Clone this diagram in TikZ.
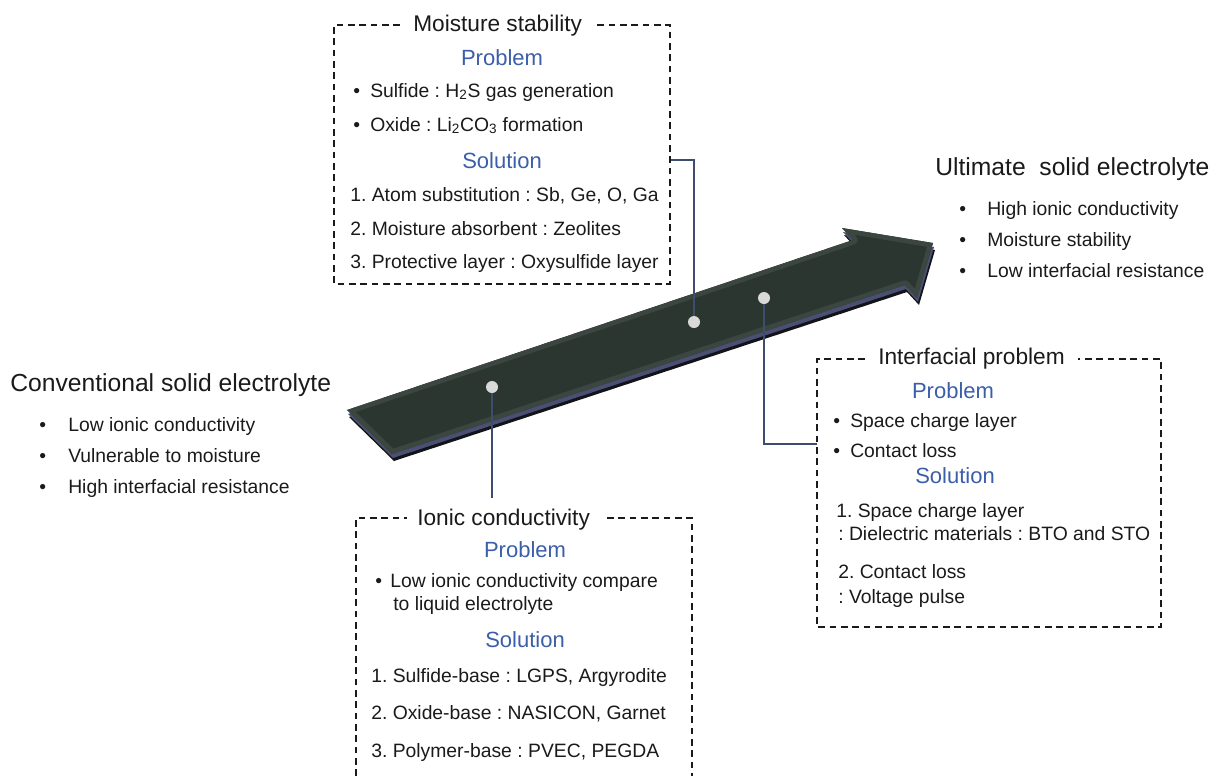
\documentclass[tikz,border=0pt]{standalone}
\usepackage{fontspec}
\setmainfont{Liberation Sans}
\frenchspacing
\definecolor{probblue}{HTML}{3B5EA8}
\definecolor{linkcol}{HTML}{3E4C6E}
\definecolor{dotgray}{HTML}{D9D9D9}
\definecolor{arrmain}{HTML}{2B3630}
\definecolor{arrbevel}{HTML}{3A463F}
\definecolor{arrside}{HTML}{4A4F73}
\definecolor{arrshadow}{HTML}{121419}
\definecolor{txtcol}{HTML}{1A1A1A}
\begin{document}
\frenchspacing
\begin{tikzpicture}[x=0.75pt,y=-0.75pt,
  txt/.style={inner sep=0pt, anchor=base west, text=txtcol, font=\fontsize{14.5}{17}\selectfont},
  hd/.style={inner sep=0pt, anchor=base, text=probblue, font=\fontsize{16.5}{19}\selectfont},
  ttl/.style={inner sep=0pt, anchor=base west, text=txtcol, font=\fontsize{17}{20}\selectfont},
  big/.style={inner sep=0pt, anchor=base west, text=txtcol, font=\fontsize{18.5}{22}\selectfont},
  dbox/.style={line width=1.1pt, dash pattern=on 5pt off 3.5pt, txtcol},
  link/.style={line width=1.1pt, draw=linkcol},
  dotnode/.style={circle, fill=dotgray, minimum size=9pt, inner sep=0pt}]

\useasboundingbox (0,0) rectangle (1210,776);

% ---------------- arrow ----------------
\def\arrowpath{(347,410) -- (853,240) -- (842,228) -- (933,243) -- (917,298) -- (905,285) -- (392,454) -- cycle}
\begin{scope}[shift={(2,7)}]
  \fill[arrshadow] \arrowpath;
\end{scope}
\begin{scope}[shift={(1,4)}]
  \fill[arrside] \arrowpath;
\end{scope}
\fill[arrmain] \arrowpath;
\begin{scope}
  \clip \arrowpath;
  \draw[arrbevel, line width=7pt, line join=round] \arrowpath;
\end{scope}

% ---------------- left / right summaries ----------------
\node[big] (conv) at (10,391) {Conventional solid electrolyte};
\node[txt] (cb1) at (39,431) {•};
\node[txt] (cb2) at (39,462) {•};
\node[txt] (cb3) at (39,493) {•};
\node[txt] (c1) at (68,431) {Low ionic conductivity};
\node[txt] (c2) at (68,462) {Vulnerable to moisture};
\node[txt] (c3) at (68,493) {High interfacial resistance};

\node[big] (ult) at (935,175) {Ultimate\ \ solid electrolyte};
\node[txt] (ub1) at (959,215) {•};
\node[txt] (ub2) at (959,246) {•};
\node[txt] (ub3) at (959,277) {•};
\node[txt] (u1) at (987,215) {High ionic conductivity};
\node[txt] (u2) at (987,246) {Moisture stability};
\node[txt] (u3) at (987,277) {Low interfacial resistance};

% ---------------- connectors and dots ----------------
\coordinate (p1) at (492,387);
\coordinate (p2) at (694,322);
\coordinate (p3) at (764,298);
\coordinate (mR) at (670,160);
\coordinate (iL) at (817,444);
\coordinate (ionTop) at (492,498);
\draw[link] (p1) -- (ionTop);
\draw[link] (mR) -| (p2);
\draw[link] (p3) |- (iL);
\node[dotnode] (d1) at (p1) {};
\node[dotnode] (d2) at (p2) {};
\node[dotnode] (d3) at (p3) {};

% ---------------- Moisture stability box ----------------
\draw[dbox] (400,25) -- (334,25) -- (334,284) -- (670,284) -- (670,25) -- (593,25);
\node[ttl] (mt) at (413,31) {Moisture stability};
\node[hd] (mp) at (502,65) {Problem};
\node[txt] (mb1) at (353,97) {•};
\node[txt] (mb2) at (353,131) {•};
\node[txt] (m1) at (370,97) {Sulfide : H\textsubscript{2}S gas generation};
\node[txt] (m2) at (370,131) {Oxide : Li\textsubscript{2}CO\textsubscript{3} formation};
\node[hd] (ms) at (502,168) {Solution};
\node[txt] (m3) at (350,201) {1. Atom substitution : Sb, Ge, O, Ga};
\node[txt] (m4) at (350,235) {2. Moisture absorbent : Zeolites};
\node[txt] (m5) at (350,268) {3. Protective layer : Oxysulfide layer};

% ---------------- Interfacial problem box ----------------
\draw[dbox] (865,359) -- (817,359) -- (817,627) -- (1161,627) -- (1161,359) -- (1078,359);
\node[ttl] (it) at (878,364) {Interfacial problem};
\node[hd] (ip) at (953,398) {Problem};
\node[txt] (ib1) at (833,427) {•};
\node[txt] (ib2) at (833,457) {•};
\node[txt] (i1) at (850,427) {Space charge layer};
\node[txt] (i2) at (850,457) {Contact loss};
\node[hd] (is) at (955,483) {Solution};
\node[txt] (i3) at (836,517) {1. Space charge layer};
\node[txt] (i4) at (838,540) {: Dielectric materials : BTO and STO};
\node[txt] (i5) at (838,578) {2. Contact loss};
\node[txt] (i6) at (838,603) {: Voltage pulse};

% ---------------- Ionic conductivity box ----------------
\draw[dbox] (356,776) -- (356,518) -- (407,518);
\draw[dbox] (607,518) -- (692,518) -- (692,776);
\node[ttl] (nt) at (417,525) {Ionic conductivity};
\node[hd] (np) at (525,557) {Problem};
\node[txt] (nb1) at (375,587) {•};
\node[txt] (n1) at (390,587) {Low ionic conductivity compare};
\node[txt] (n2) at (393,610) {to liquid electrolyte};
\node[hd] (ns) at (525,647) {Solution};
\node[txt] (n3) at (371,682) {1. Sulfide-base : LGPS, Argyrodite};
\node[txt] (n4) at (371,719) {2. Oxide-base : NASICON, Garnet};
\node[txt] (n5) at (371,757) {3. Polymer-base : PVEC, PEGDA};
\end{tikzpicture}
\end{document}
